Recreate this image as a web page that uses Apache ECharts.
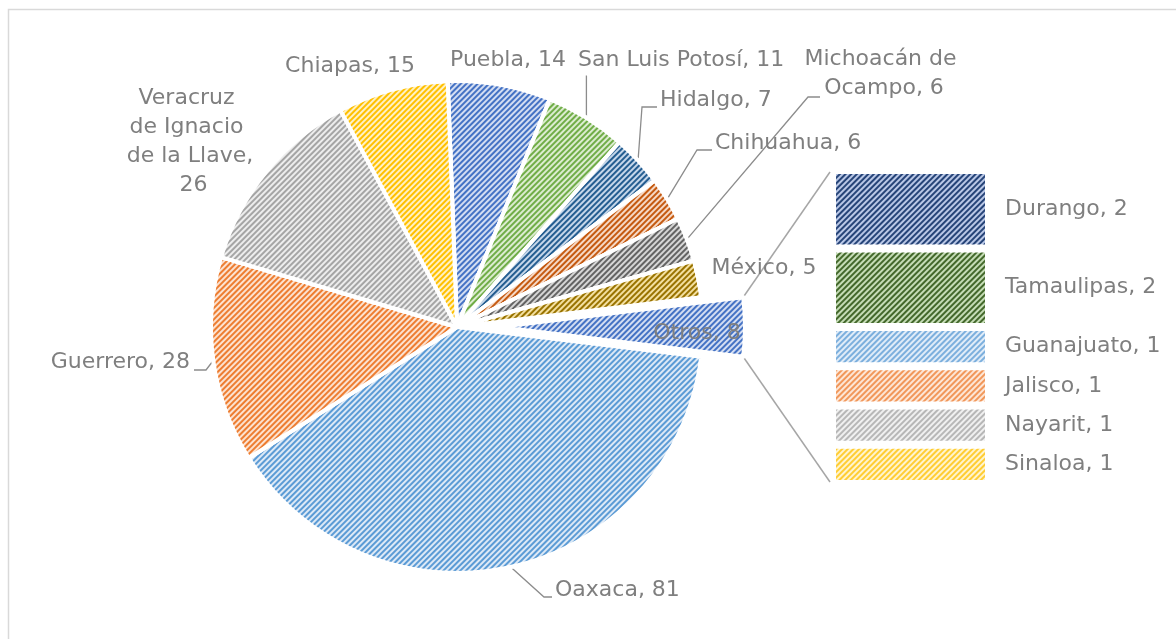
<!DOCTYPE html>
<html>
<head>
<meta charset="utf-8">
<script src="https://cdn.jsdelivr.net/npm/echarts@6/dist/echarts.min.js"></script>
<style>
  html, body { margin: 0; background: #fff; }
  #chart { width: 1176px; height: 639px; }
</style>
</head>
<body>
<div id="chart"></div>
<script>
// Pie slices, clockwise from the top
const pieNames = ['Puebla', 'San Luis Potosí', 'Hidalgo', 'Chihuahua', 'Michoacán de Ocampo', 'México',
                  'Otros', 'Oaxaca', 'Guerrero', 'Veracruz de Ignacio de la Llave', 'Chiapas'];
const pieValues = [14, 11, 7, 6, 6, 5, 8, 81, 28, 26, 15];

// "Otros" broken out in the bar, top to bottom
const barNames = ['Durango', 'Tamaulipas', 'Guanajuato', 'Jalisco', 'Nayarit', 'Sinaloa'];
const barValues = [2, 2, 1, 1, 1, 1];

const othersName = 'Otros';

// [stripe colour, background tint]
const pieColors = [
    ['#4472C4', '#d3ddf2'], ['#70AD47', '#dcecd0'], ['#255E91', '#c6d7ea'], ['#C55A11', '#f6d9c6'],
    ['#636363', '#d6d6d6'], ['#997300', '#f3dfa0'], ['#4472C4', '#d3ddf2'], ['#5B9BD5', '#dde9f6'],
    ['#ED7D31', '#fce2d0'], ['#A5A5A5', '#ededed'], ['#FFC000', '#fff1c4']
];
const barColors = [
    ['#264478', '#b9c7e6'], ['#43682B', '#c5dcb6'], ['#7CAFDD', '#e0ecf8'],
    ['#F1975A', '#fde6d6'], ['#B7B7B7', '#f0f0f0'], ['#FFCD33', '#fff4cf']
];

const FONT = 'DejaVu Sans';
const FONT_SIZE = 22;
const TEXT = '#7f7f7f';
const LINE = '#8c8c8c';
const PIE = { cx: 457, cy: 327, r: 246, offset: 42 };
const BAR = { left: 832, top: 170, width: 157, height: 314 };

// where Excel put each pie label
const labelPos = {
    'Puebla': { x: 508, y: 60, align: 'center' },
    'San Luis Potosí': { x: 578, y: 60, align: 'left', line: 'up' },
    'Hidalgo': { x: 660, y: 100, align: 'left', line: 'left', bend: 15 },
    'Chihuahua': { x: 715, y: 143, align: 'left', line: 'left', bend: 15 },
    'Michoacán de Ocampo': { x: 884, y: 74, align: 'center', width: 172, line: 'left', bend: 12, lineX: 823, lineDy: 23 },
    'México': { x: 764, y: 268, align: 'center' },
    'Otros': { x: 697, y: 333, align: 'center' },
    'Oaxaca': { x: 555, y: 590, align: 'left', line: 'left', bend: 8 },
    'Guerrero': { x: 190, y: 362, align: 'right', line: 'right', bend: 16 },
    'Veracruz de Ignacio de la Llave': { x: 190, y: 142, align: 'center', width: 129 },
    'Chiapas': { x: 350, y: 66, align: 'center' }
};

function hatch(c) {
    return {
        color: c[1],
        decal: {
            symbol: 'rect',
            symbolSize: 1,
            color: c[0],
            dashArrayX: [1, 0],
            dashArrayY: [2, 2],
            rotation: -Math.PI / 4
        }
    };
}

const hidden = { color: 'rgba(0,0,0,0)', borderWidth: 0 };

const total = pieValues.reduce((a, b) => a + b, 0);
const othersIdx = pieNames.indexOf(othersName);
const beforeOthers = pieValues.slice(0, othersIdx).reduce((a, b) => a + b, 0);
// Excel turns the pie so that "Otros" points straight at the bar
const startAngle = (beforeOthers + pieValues[othersIdx] / 2) / total * 360;

// main pie: every slice but "Otros" (which is drawn pulled out by the second pie)
const pieData = pieNames.map((name, i) => {
    const p = labelPos[name];
    const isOthers = name === othersName;
    const item = {
        name: name,
        value: pieValues[i],
        itemStyle: isOthers ? hidden : hatch(pieColors[i]),
        labelLine: { show: !!p.line },
        label: { show: !isOthers }
    };
    if (p.width) {
        item.label.width = p.width;
        item.label.overflow = 'break';
    }
    return item;
});

// same pie, moved along the "Otros" direction, only "Otros" visible
const explodedData = pieNames.map((name, i) => {
    const isOthers = name === othersName;
    return {
        name: name,
        value: pieValues[i],
        itemStyle: isOthers ? hatch(pieColors[i]) : hidden,
        label: { show: isOthers },
        labelLine: { show: false }
    };
});

function placeLabel(params) {
    const name = pieNames[params.dataIndex];
    const p = labelPos[name];
    const out = { x: p.x, y: p.y, align: p.align, verticalAlign: 'middle' };
    const pts = params.labelLinePoints;
    if (p.line && pts) {
        const a = pts[0];
        const w = params.labelRect.width;
        const h = params.labelRect.height;
        const left = p.align === 'left' ? p.x : p.align === 'center' ? p.x - w / 2 : p.x - w;
        const right = left + w;
        if (p.line === 'up') {
            out.labelLinePoints = [a, [a[0], p.y + h / 2 + 1]];
        } else if (p.line === 'left') {
            const ex = (p.lineX != null ? p.lineX : left) - 3;
            const ey = p.y + (p.lineDy != null ? p.lineDy : 7);
            out.labelLinePoints = [a, [ex - p.bend, ey], [ex, ey]];
        } else {
            const ex = right + 4;
            const ey = p.y + 8;
            out.labelLinePoints = [a, [ex + p.bend - 4, ey], [ex, ey]];
        }
    }
    return out;
}

const pieLabel = {
    show: true,
    position: 'outside',
    formatter: '{b}, {c}',
    color: TEXT,
    fontFamily: FONT,
    fontSize: FONT_SIZE,
    lineHeight: 29,
    align: 'center'
};

const barSeries = barNames.map((name, i) => ({
    name: name,
    type: 'bar',
    stack: 'otros',
    barWidth: '100%',
    data: [barValues[i]],
    itemStyle: Object.assign(hatch(barColors[i]), { borderColor: '#fff', borderWidth: 4 }),
    label: {
        show: true,
        position: 'right',
        distance: 16,
        formatter: '{a}, {c}',
        color: TEXT,
        fontFamily: FONT,
        fontSize: FONT_SIZE
    },
    emphasis: { disabled: true }
}));

const chart = echarts.init(document.getElementById('chart'));

const option = {
    animation: false,
    backgroundColor: '#fff',
    grid: {
        left: BAR.left,
        top: BAR.top,
        width: BAR.width,
        height: BAR.height
    },
    xAxis: { type: 'category', data: [othersName], show: false },
    yAxis: {
        type: 'value',
        min: 0,
        max: barValues.reduce((a, b) => a + b, 0),
        inverse: true,
        show: false
    },
    series: [
        {
            type: 'pie',
            center: [PIE.cx, PIE.cy],
            radius: PIE.r,
            startAngle: startAngle,
            clockwise: true,
            avoidLabelOverlap: false,
            data: pieData,
            itemStyle: { borderColor: '#fff', borderWidth: 4 },
            label: pieLabel,
            labelLine: {
                show: true,
                length: 10,
                length2: 10,
                smooth: false,
                lineStyle: { color: LINE, width: 1.3 }
            },
            labelLayout: placeLabel,
            emphasis: { disabled: true },
            silent: true
        },
        {
            type: 'pie',
            center: [PIE.cx + PIE.offset, PIE.cy],
            radius: PIE.r,
            startAngle: startAngle,
            clockwise: true,
            avoidLabelOverlap: false,
            data: explodedData,
            itemStyle: { borderColor: '#fff', borderWidth: 4 },
            label: pieLabel,
            labelLayout: placeLabel,
            emphasis: { disabled: true },
            silent: true
        }
    ].concat(barSeries)
};

chart.setOption(option);

// connector lines from the pulled-out slice to the ends of the bar
const half = pieValues[othersIdx] / total * Math.PI;
const ox = PIE.cx + PIE.offset;
const cornerTop = [ox + PIE.r * Math.cos(half), PIE.cy - PIE.r * Math.sin(half)];
const cornerBot = [ox + PIE.r * Math.cos(half), PIE.cy + PIE.r * Math.sin(half)];
const barTop = chart.convertToPixel({ xAxisIndex: 0, yAxisIndex: 0 }, [0, 0]);
const barBot = chart.convertToPixel({ xAxisIndex: 0, yAxisIndex: 0 }, [0, option.yAxis.max]);

chart.setOption({
    graphic: [
        {
            type: 'rect',
            shape: { x: 8.5, y: 9.5, width: 1300, height: 800 },
            style: { fill: 'none', stroke: '#d9d9d9', lineWidth: 1.5 },
            silent: true
        },
        {
            type: 'line',
            shape: { x1: cornerTop[0], y1: cornerTop[1], x2: BAR.left - 2, y2: barTop[1] + 2 },
            style: { stroke: '#a6a6a6', lineWidth: 1.5 },
            silent: true
        },
        {
            type: 'line',
            shape: { x1: cornerBot[0], y1: cornerBot[1], x2: BAR.left - 2, y2: barBot[1] - 2 },
            style: { stroke: '#a6a6a6', lineWidth: 1.5 },
            silent: true
        }
    ]
});
</script>
</body>
</html>
